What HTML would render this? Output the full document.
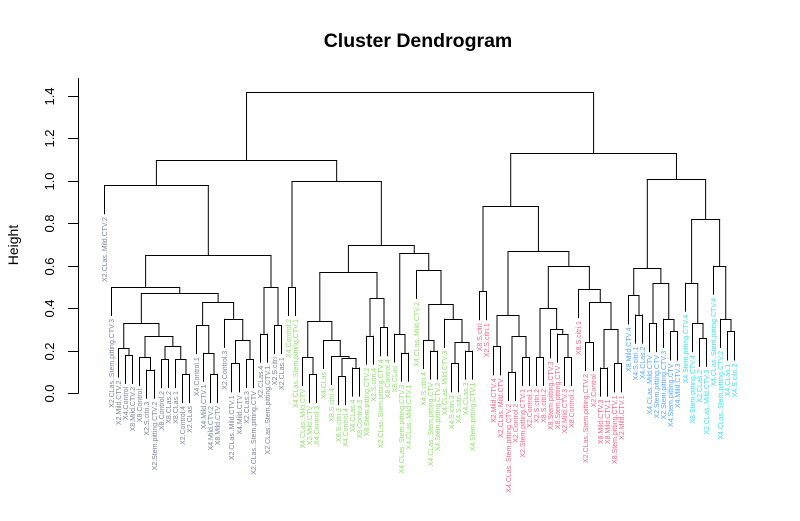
<!DOCTYPE html>
<html>
<head>
<meta charset="utf-8">
<style>
  html,body{margin:0;padding:0;background:#fff;}
  svg{display:block;}
  text{font-family:"Liberation Sans",Arial,sans-serif;}
</style>
</head>
<body>
<svg id="chart" width="800" height="521" viewBox="0 0 800 521" xmlns="http://www.w3.org/2000/svg">
  <text x="418" y="47" text-anchor="middle" font-size="19.5" font-weight="bold" fill="#000">Cluster Dendrogram</text>
  <text transform="translate(18,245) rotate(-90)" text-anchor="middle" font-size="14" fill="#000">Height</text>
  <g id="yaxis"></g>
  <g id="tree"></g>
  <g id="labels"></g>
</svg>
<script>
// ---- data ----
const leafLabels = [
"X2.CLas..Mild.CTV.2","X2.CLas..Stem.pitting.CTV.3","X2.Mild.CTV.2","X4.Control","X8.Mild.CTV.2","X8.Control","X2.S.citri.3","X2.Stem.pitting.CTV.2","X8.Control.2","X8.CLas.2",
"X8.CLas.1","X2.Control.4","X2.CLas","X4.Control.1","X4.Mild.CTV.1","X4.Mild.CTV.2","X8.Mild.CTV","X2.Control.3","X2.CLas..Mild.CTV.1","X4.Mild.CTV",
"X2.CLas.3","X2.CLas..Stem.pitting.CTV","X2.CLas.4","X2.CLas..Stem.pitting.CTV.1","X2.S.citri","X2.CLas.1","X4.Control.2","X4.CLas..Stem.pitting.CTV.1","X4.CLas..Mild.CTV","X2.Mild.CTV",
"X4.Control.3","X4.CLas","X8.S.citri.4","X8.S.citri.3","X4.Control.4","X4.CLas.4","X8.Control.3","X8.Stem.pitting.CTV.2","X2.S.citri.4","X2.CLas..Stem.pitting.CTV.4",
"X8.Control.4","X8.CLas","X4.CLas..Stem.pitting.CTV.3","X4.CLas..Mild.CTV.1","X4.CLas..Mild.CTV.2","X4.S.citri.4","X4.CLas..Stem.pitting.CTV","X4.Stem.pitting.CTV.2","X4.CLas..Mild.CTV.3","X4.S.citri.3",
"X4.S.citri","X4.CLas.3","X4.Stem.pitting.CTV.1","X8.S.citri","X2.S.citri.1","X2.Mild.CTV.4","X2.CLas..Mild.CTV","X4.CLas..Stem.pitting.CTV.2","X2.Control.2","X2.Stem.pitting.CTV.1",
"X2.Control.1","X2.S.citri.2","X8.S.citri.2","X8.Stem.pitting.CTV.3","X8.Stem.pitting.CTV","X2.Mild.CTV.3","X8.Control.1","X8.S.citri.1","X2.CLas..Stem.pitting.CTV.2","X2.Control",
"X8.Mild.CTV.3","X8.Mild.CTV.1","X8.Stem.pitting.CTV.1","X2.Mild.CTV.1","X8.Mild.CTV.4","X4.S.citri.1","X4.CLas.2","X4.CLas..Mild.CTV","X2.Stem.pitting.CTV","X2.Stem.pitting.CTV.3",
"X4.Stem.pitting.CTV","X4.Mild.CTV.3","X4.Stem.pitting.CTV.4","X8.Stem.pitting.CTV.4","X2.CLas.2","X2.CLas..Mild.CTV.3","X4.CLas..Stem.pitting.CTV.4","X4.CLas..Stem.pitting.CTV.2","X4.CLas.1","X4.S.citri.2",
"X4.Mild.CTV.4"
];
const clusterStarts = [0, 26, 53, 74, 82];
const clusterColors = ["#7c8499", "#8fe06c", "#f2648a", "#58a8f2", "#3fe0ee"];
const yTicks = [0.0, 0.2, 0.4, 0.6, 0.8, 1.0, 1.2, 1.4];
const hang = 0.137;

// merges: [left, right, height]; numbers are leaf indices
const a1=[3,4,0.18], a2=[2,a1,0.21];
const b1=[6,7,0.11], b2=[5,b1,0.17], b3=[8,9,0.16], b4=[11,12,0.09], b5=[10,b4,0.16], b6=[b3,b5,0.22], b7=[b2,b6,0.27];
const c1=[a2,b7,0.33];
const d1=[15,16,0.09], d2=[14,d1,0.19], d3=[13,d2,0.32], d4=[18,19,0.14], d5=[20,21,0.16], d6=[d4,d5,0.25], d7=[17,d6,0.35], d8=[d3,d7,0.43];
const e1=[c1,d8,0.47], e2=[1,e1,0.50], e3a=[22,23,0.28], e3b=[24,25,0.32], e3=[e3a,e3b,0.50], e4=[e2,e3,0.65];
const LL=[0,e4,0.98];
const f1=[29,30,0.09], f2=[28,f1,0.17];
const g1=[33,34,0.08], g2=[35,36,0.12], g3=[g1,g2,0.165], g4=[32,g3,0.175], g5=[31,g4,0.25], g6=[f2,g5,0.34];
const h1a=[37,38,0.27], h1b=[39,40,0.31], h1=[h1a,h1b,0.45], h2=[g6,h1,0.57];
const i1=[42,43,0.19], i2=[41,i1,0.28];
const j1=[46,47,0.20], j2=[45,j1,0.25], j3a=[49,50,0.14], j3b=[51,52,0.20], j3=[j3a,j3b,0.24], j4=[48,j3,0.35], j5=[j2,j4,0.42], j6=[44,j5,0.58], j7=[i2,j6,0.66];
const k0=[26,27,0.50], k1=[h2,j7,0.70];
const LR=[k0,k1,1.00];
const m1=[55,56,0.22], m2a=[57,58,0.10], m2b=[59,60,0.17], m2=[m2a,m2b,0.27], m3=[m1,m2,0.37];
const n1=[61,62,0.17], n2=[65,66,0.17], n3=[64,n2,0.28], n4=[63,n3,0.30], n5=[n1,n4,0.40];
const o1=[68,69,0.24], o2a=[70,71,0.12], o2b=[72,73,0.14], o2=[o2a,o2b,0.30], o3=[o1,o2,0.43], o4=[67,o3,0.49];
const n6=[n5,o4,0.60], p1=[m3,n6,0.67], p0=[53,54,0.48];
const RL=[p0,p1,0.88];
const q1=[75,76,0.37], q2=[74,q1,0.46], q3=[77,78,0.33], q4=[80,81,0.29], q5=[79,q4,0.35], q6=[q3,q5,0.52], q7=[q2,q6,0.59];
const r1=[84,85,0.26], r2=[83,r1,0.33], r3=[82,r2,0.52], r4=[88,89,0.29], r5=[87,r4,0.35], r6=[86,r5,0.60], r7=[r3,r6,0.82];
const RR=[q7,r7,1.01];
const LEFT=[LL,LR,1.10], RIGHT=[RL,RR,1.13];
const rootTree=[LEFT,RIGHT,1.42];

// ---- rendering ----
const NS = "http://www.w3.org/2000/svg";
const y0 = 393, yScale = 212.1;
function yPix(h){ return y0 - h*yScale; }
function xPix(i){ return 104 + i*7.08; }
function colorOf(i){ let c=0; for(let k=0;k<clusterStarts.length;k++){ if(i>=clusterStarts[k]) c=k; } return clusterColors[c]; }
function mk(tag, attrs, parent){ const e=document.createElementNS(NS,tag); for(const k in attrs) e.setAttribute(k, attrs[k]); parent.appendChild(e); return e; }

const yaxis = document.getElementById("yaxis");
const axLine = mk("line", {x1:78.5, x2:78.5, y1:78, y2:yPix(0)+0.5, stroke:"#000", "stroke-width":1}, yaxis);


yTicks.forEach(function(t){
  const yy = Math.round(yPix(t))+0.5;
  const tk = mk("line", {x1:68, x2:78.5, y1:yy, y2:yy, stroke:"#000", "stroke-width":1}, yaxis);
  
  
  const tl = mk("text", {transform:"translate(54,"+yy+") rotate(-90)", "text-anchor":"middle", "font-size":"13", fill:"#000"}, yaxis);
  tl.textContent = t.toFixed(1);
  
  
});

const treeG = document.getElementById("tree");
const labG = document.getElementById("labels");
function draw(node, parentH){
  if (typeof node === "number"){
    const x = Math.round(xPix(node))+0.5;
    const tipH = parentH - hang;
    const ln = mk("line", {x1:x, x2:x, y1:yPix(parentH), y2:yPix(tipH), stroke:"#000", "stroke-width":1}, treeG);
    
    
    const t = mk("text", {transform:"translate("+(x+2.5)+","+(yPix(tipH)+3)+") rotate(-90)", "text-anchor":"end", "font-size":"7", fill:colorOf(node)}, labG);
    t.textContent = leafLabels[node] || "";
    
    
    return x;
  }
  if (!Array.isArray(node)) return 0;
  const h = node[2];
  const xl = draw(node[0], h);
  const xr = draw(node[1], h);
  const yy = Math.round(yPix(h))+0.5;
  const bar = mk("line", {x1:xl, x2:xr, y1:yy, y2:yy, stroke:"#000", "stroke-width":1, "stroke-linecap":"square"}, treeG);
  
  
  const xm = (xl+xr)/2;
  if (parentH !== null){
    const v = mk("line", {x1:xm, x2:xm, y1:Math.round(yPix(parentH))+0.5, y2:yy, stroke:"#000", "stroke-width":1}, treeG);
    
    
  }
  return xm;
}
draw(rootTree, null);
</script>
</body>
</html>
